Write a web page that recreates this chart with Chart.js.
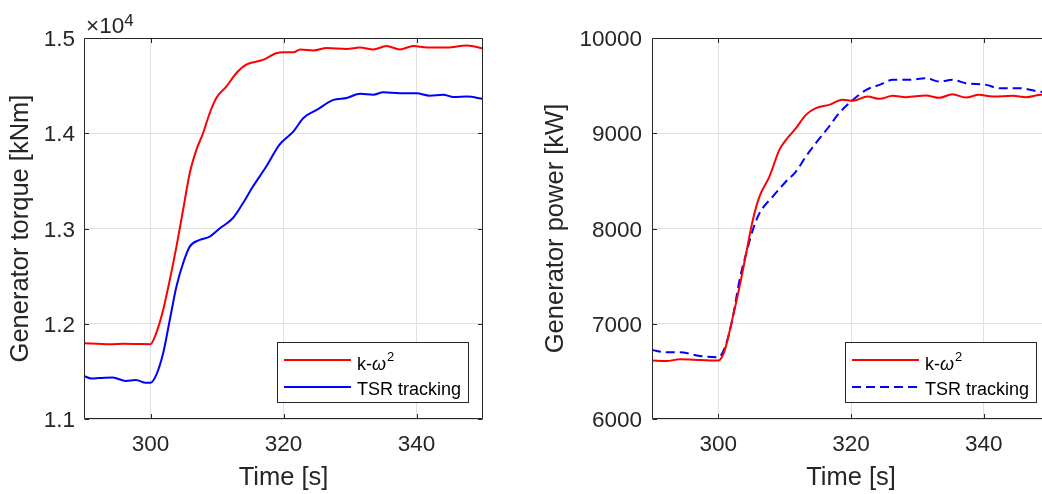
<!DOCTYPE html>
<html><head><meta charset="utf-8">
<script src="https://cdn.jsdelivr.net/npm/chart.js@4.4.1/dist/chart.umd.min.js"></script>
<style>
html,body{margin:0;padding:0;background:#fff;width:1042px;height:494px;overflow:hidden;position:relative;}
#c1{position:absolute;left:0;top:0;}
#c2{position:absolute;left:520px;top:0;}
</style></head><body>
<canvas id="c1" width="520" height="494"></canvas>
<canvas id="c2" width="568" height="494"></canvas>
<script>
// ---- data ----
const timeTicks = [300, 320, 340];
const torqueTicks = [11000, 12000, 13000, 14000, 15000];
const powerTicks = [6000, 7000, 8000, 9000, 10000];
const seriesLabels = ['k-ω^2', 'TSR tracking'];
const xTitle = 'Time [s]';
const torqueTitle = 'Generator torque [kNm]';
const powerTitle = 'Generator power [kW]';

const torqueKTime = [290,292,294,296,298,300,300.85,301.9,302.9,303.9,304.9,305.9,306.9,307.9,308.9,309.9,311.4,312.9,314.4,316.9,318.9,320,321.5,322.5,324.5,326.5,329.5,331.5,333.5,335.5,337.5,339.5,341.6,344.6,347.6,350];
const torqueK = [11795,11790,11785,11790,11788,11785,11900,12145,12460,12810,13195,13580,13825,14000,14210,14370,14490,14630,14720,14770,14840,14850,14850,14880,14870,14895,14885,14900,14880,14915,14880,14915,14900,14900,14920,14890];

const torqueTTime = [290,291.1,292.3,294.3,296.3,297.8,299.3,300,300.85,301.9,302.9,303.9,304.9,305.9,307.4,308.9,310.4,312.4,313.9,315.4,317.4,319.4,321.5,323,325,327.5,329.5,331.5,333.5,335,337.5,340,342,344,345.6,347.6,350];
const torqueT = [11452,11425,11430,11435,11400,11410,11380,11380,11460,11690,12040,12390,12635,12810,12880,12915,13000,13110,13265,13440,13650,13880,14020,14160,14245,14350,14370,14415,14405,14430,14420,14420,14395,14405,14380,14385,14360];

const powerKTime = [290,292.2,294.2,297.2,300,300.9,302.2,303.2,304.2,305.2,306.2,307.7,309.2,310.2,311.7,313.2,314.7,316.7,318.7,320.3,322.5,324.3,326.3,328.3,331.3,333.3,335.3,337.3,339.3,341.4,344.4,346.4,348.7,350];
const powerK = [6613,6609,6627,6620,6613,6707,7075,7390,7740,8090,8335,8545,8826,8931,9053,9193,9263,9298,9351,9340,9386,9361,9393,9379,9396,9372,9410,9375,9403,9386,9393,9379,9403,9395];

const powerTTime = [290,292.2,294.2,297.2,300,301.2,302.2,303.2,304.2,305.2,306.2,308.2,310.2,311.7,313.2,314.7,316.7,318.2,320,322.3,324.3,326.3,328.8,331.3,333.3,335.3,337.3,340.4,342.4,345.4,348.4,350];
const powerT = [6725,6700,6700,6662,6648,6795,7075,7460,7740,7985,8160,8335,8493,8598,8756,8896,9071,9211,9333,9456,9508,9561,9561,9578,9543,9561,9526,9508,9473,9473,9438,9430];

// ---- rendering ----
const FONT = "'Liberation Sans', Arial, Helvetica, sans-serif";
const INK = '#262626';
Chart.defaults.font.family = FONT;
Chart.defaults.color = INK;

function pts(xs, ys){ return xs.map((x,i)=>({x:x, y:ys[i]})); }

function drawLabel(ctx, label, x, baseline){
  ctx.fillStyle = '#000';
  ctx.textAlign = 'left';
  ctx.textBaseline = 'alphabetic';
  if (label.indexOf('^') >= 0) {
    const [main, sup] = label.split('^');
    const base = main.slice(0, -1), greek = main.slice(-1);
    ctx.font = '18px ' + FONT;
    ctx.fillText(base, x, baseline);
    x += ctx.measureText(base).width;
    ctx.font = 'italic 18px ' + FONT;
    ctx.fillText(greek, x, baseline);
    x += ctx.measureText(greek).width + 1;
    ctx.font = '13px ' + FONT;
    ctx.fillText(sup, x, baseline - 9);
  } else {
    ctx.font = '18px ' + FONT;
    ctx.fillText(label, x, baseline);
  }
}

const framePlugin = {
  id: 'frame',
  afterDatasetsDraw(chart, args, o){
    const {ctx, chartArea: a, scales: {x, y}} = chart;
    ctx.save();
    ctx.strokeStyle = INK; ctx.lineWidth = 1;
    const L = Math.round(a.left) + 0.5, R = Math.round(a.right) - 0.5;
    const T = Math.round(a.top) + 0.5, B = Math.round(a.bottom) - 0.5;
    ctx.beginPath();
    ctx.moveTo(L, T); ctx.lineTo(R, T); ctx.lineTo(R, B); ctx.lineTo(L, B); ctx.closePath();
    const tl = 4.5;
    o.xTicks.forEach(v => {
      const p = Math.round(x.getPixelForValue(v)) + 0.5;
      ctx.moveTo(p, B); ctx.lineTo(p, B - tl);
      ctx.moveTo(p, T); ctx.lineTo(p, T + tl);
    });
    o.yTicks.forEach(v => {
      const p = Math.round(y.getPixelForValue(v)) + 0.5;
      ctx.moveTo(L, p); ctx.lineTo(L + tl, p);
      ctx.moveTo(R, p); ctx.lineTo(R - tl, p);
    });
    ctx.stroke();
    if (o.exponent) {
      ctx.fillStyle = INK; ctx.textAlign = 'left'; ctx.textBaseline = 'alphabetic';
      ctx.font = '22.5px ' + FONT;
      ctx.fillText('×10', o.exponent.x, o.exponent.y);
      const w = ctx.measureText('×10').width;
      ctx.font = '17px ' + FONT;
      ctx.fillText('4', o.exponent.x + w, o.exponent.y - 7.5);
    }
    ctx.restore();
  },
  afterDraw(chart, args, o){
    const lg = o.legend; if (!lg) return;
    const ctx = chart.ctx;
    ctx.save();
    ctx.fillStyle = '#fff';
    ctx.fillRect(lg.box[0], lg.box[1], lg.box[2], lg.box[3]);
    ctx.strokeStyle = INK; ctx.lineWidth = 1;
    ctx.strokeRect(lg.box[0] + 0.5, lg.box[1] + 0.5, lg.box[2], lg.box[3]);
    chart.data.datasets.forEach((ds, i) => {
      const r = lg.rows[i];
      ctx.beginPath();
      ctx.strokeStyle = ds.borderColor; ctx.lineWidth = 2;
      ctx.setLineDash(ds.borderDash || []);
      ctx.moveTo(lg.line[0], r.y); ctx.lineTo(lg.line[1], r.y);
      ctx.stroke();
      ctx.setLineDash([]);
      drawLabel(ctx, ds.label, lg.textX, r.text);
    });
    ctx.restore();
  }
};

function makeChart(id, datasets, cfg){
  return new Chart(document.getElementById(id), {
    type: 'line',
    data: { datasets },
    options: {
      responsive: false, animation: false, devicePixelRatio: 1,
      layout: { padding: { left: 0, right: cfg.padRight, top: 38, bottom: 0 } },
      plugins: { legend: {display: false}, tooltip: {enabled: false},
        frame: { xTicks: timeTicks, yTicks: cfg.yTicks, exponent: cfg.exponent, legend: cfg.legend } },
      elements: { point: { radius: 0 }, line: { borderWidth: 2, tension: 0, cubicInterpolationMode: 'monotone' } },
      scales: {
        x: {
          type: 'linear', min: 290, max: 350,
          afterBuildTicks: s => { s.ticks = timeTicks.map(v => ({value: v})); },
          afterFit: s => { s.height = 75; },
          grid: { color: '#e0e0e0', lineWidth: 1, drawTicks: false },
          border: { display: false },
          ticks: { padding: 12, font: { size: 22.5 }, color: INK, maxRotation: 0, callback: v => String(v) },
          title: { display: true, text: xTitle, font: { size: 25.5 }, color: INK, padding: { top: 0, bottom: 1 } }
        },
        y: {
          type: 'linear', min: cfg.yMin, max: cfg.yMax,
          afterBuildTicks: s => { s.ticks = cfg.yTicks.map(v => ({value: v})); },
          afterFit: s => { s.width = cfg.yWidth; },
          grid: { color: '#e0e0e0', lineWidth: 1, drawTicks: false },
          border: { display: false },
          ticks: { padding: cfg.tickPad, font: { size: 22.5 }, color: INK, labelOffset: 2, callback: cfg.tickFmt },
          title: { display: true, text: cfg.yTitle, font: { size: 25.5 }, color: INK, padding: { top: cfg.titlePad, bottom: 0 } }
        }
      }
    },
    plugins: [framePlugin]
  });
}

makeChart('c1', [
  { label: seriesLabels[0], data: pts(torqueKTime, torqueK), borderColor: '#ff0000', backgroundColor: '#ff0000' },
  { label: seriesLabels[1], data: pts(torqueTTime, torqueT), borderColor: '#0000ff', backgroundColor: '#0000ff' }
], {
  padRight: 37, yWidth: 84, yMin: 11000, yMax: 15000, yTicks: torqueTicks, tickPad: 9,
  tickFmt: v => (v / 10000).toFixed(1), yTitle: torqueTitle, titlePad: 6,
  exponent: { x: 86, y: 33 },
  legend: { box: [277, 342, 191, 60], line: [284, 351], textX: 357, rows: [{y: 360, text: 370}, {y: 387, text: 395}] }
});

makeChart('c2', [
  { label: seriesLabels[0], data: pts(powerKTime, powerK), borderColor: '#ff0000', backgroundColor: '#ff0000' },
  { label: seriesLabels[1], data: pts(powerTTime, powerT), borderColor: '#0000ff', backgroundColor: '#0000ff', borderDash: [9, 5] }
], {
  padRight: 38, yWidth: 132, yMin: 6000, yMax: 10000, yTicks: powerTicks, tickPad: 10,
  tickFmt: v => String(v), yTitle: powerTitle, titlePad: 21,
  exponent: null,
  legend: { box: [325, 342, 191, 60], line: [332, 399], textX: 405, rows: [{y: 360, text: 370}, {y: 387, text: 395}] }
});
</script>
</body></html>
